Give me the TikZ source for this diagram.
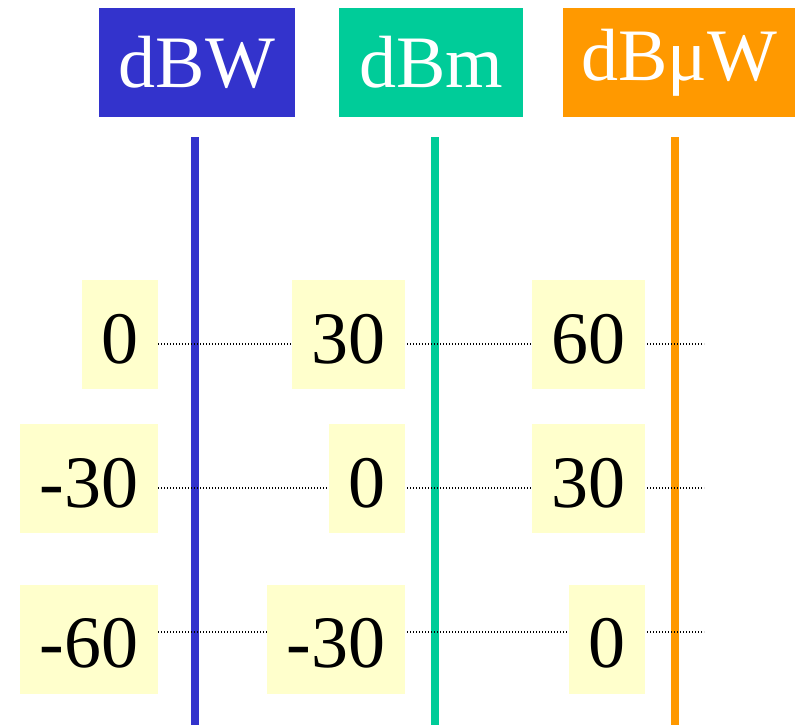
\documentclass[tikz,border=0pt]{standalone}
\usepackage{fontspec}
\setmainfont{Liberation Serif}
\usepackage{xcolor}
\usepackage{tikz}
\usetikzlibrary{backgrounds}
\definecolor{wattblue}{HTML}{3333CC}
\definecolor{milligreen}{HTML}{00CC99}
\definecolor{microorange}{HTML}{FF9900}
\definecolor{valyellow}{HTML}{FFFFCC}

\begin{document}
\begin{tikzpicture}[x=1pt,y=-1pt,
    font=\fontsize{74}{88}\selectfont,
    head/.style={text=white,inner sep=0pt,minimum height=109pt},
    val/.style={fill=valyellow,anchor=east,inner xsep=19.5pt,inner ysep=0pt,
      minimum height=109pt,text height=57pt,text depth=0pt},
    scaleline/.style={line width=8pt},
    dotline/.style={line width=1.4pt,dash pattern=on 1.4pt off 1.6pt}]
    \useasboundingbox (0,0) rectangle (795,725);

    % unit headers
    \node[head,fill=wattblue,minimum width=196pt] (hW) at (197,62.5) {dBW};
    \node[head,fill=milligreen,minimum width=184pt] (hm) at (431,62.5) {dBm};
    \node[head,fill=microorange,minimum width=232pt] (hu) at (679,62.5) {dBμW};

    % values
    \node[val] (r1W) at (158,334.5) {0};
    \node[val] (r1m) at (405,334.5) {30};
    \node[val] (r1u) at (645,334.5) {60};
    \node[val] (r2W) at (158,478.5) {-30};
    \node[val] (r2m) at (405,478.5) {0};
    \node[val] (r2u) at (645,478.5) {30};
    \node[val] (r3W) at (158,639) {-60};
    \node[val] (r3m) at (405,639) {-30};
    \node[val] (r3u) at (645,639) {0};

    \coordinate (topW) at (195,137);
    \coordinate (topm) at (435,137);
    \coordinate (topu) at (675,137);
    \coordinate (end1) at (704,344);
    \coordinate (end2) at (704,488);
    \coordinate (end3) at (704,632);

    \begin{scope}[on background layer]
      \draw[scaleline,wattblue] (topW) -- (topW |- 0,725);
      \draw[scaleline,milligreen] (topm) -- (topm |- 0,725);
      \draw[scaleline,microorange] (topu) -- (topu |- 0,725);
      \foreach \r in {1,2,3}
        \draw[dotline] (r\r W.east |- end\r) -- (end\r);
    \end{scope}
\end{tikzpicture}
\end{document}
